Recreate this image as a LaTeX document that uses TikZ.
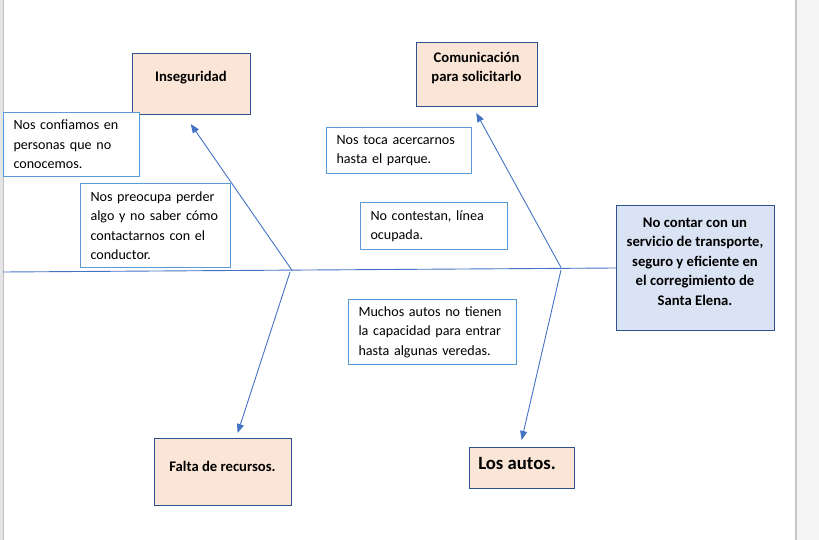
\documentclass[tikz,border=0pt]{standalone}
\usepackage{fontspec}
\setmainfont{Carlito}
\usetikzlibrary{arrows.meta}
\definecolor{peach}{HTML}{FBE5D6}
\definecolor{darkb}{HTML}{2F528F}
\definecolor{mainfill}{HTML}{DAE3F3}
\definecolor{tbline}{HTML}{5B9BD5}
\definecolor{conn}{HTML}{4472C4}
\newcommand{\bodyfont}{\fontsize{14.1}{19.4}\selectfont}
\newcommand{\ttlfont}{\fontsize{14.67}{19.4}\selectfont\bfseries}
\newcommand{\bigfont}{\fontsize{18.7}{22}\selectfont\bfseries}
\newcommand{\tl}[1]{\mbox{#1}}
\tikzset{
  x=1pt, y=-1pt,
  tbox/.style={draw=tbline, fill=white, line width=1pt, inner xsep=10pt, inner ysep=0pt,
    align=left, font=\bodyfont, anchor=north west},
  cause/.style={draw=darkb, fill=peach, line width=1pt, inner sep=0pt, anchor=north west},
  effect/.style={draw=darkb, fill=mainfill, line width=1pt, inner sep=0pt, anchor=north west},
  ttl/.style={font=\ttlfont, align=center, inner sep=0pt},
  bone/.style={draw=conn, line width=0.9pt},
  arr/.style={bone, -{Triangle[length=9pt,width=7pt]}}
}
\begin{document}
\begin{tikzpicture}
\useasboundingbox (0,0) rectangle (819,540);
\fill[white] (0,0) rectangle (819,540);
% window edges
\fill[black!10] (0,0) rectangle (3,540);
\draw[black!25, line width=0.8pt] (3,0) -- (3,540);
\fill[black!4] (797,0) rectangle (819,540);
\draw[black!22, line width=1.6pt] (796,0) -- (796,540);

% cause boxes
\node[cause, minimum width=118pt, minimum height=61pt] (ins) at (132,53) {};
\node[ttl] (inst) at (191,78) {Inseguridad};
\node[cause, minimum width=121pt, minimum height=64pt] (com) at (416,42) {};
\node[ttl] (comt) at (476.5,68) {Comunicación\\para solicitarlo};
\node[cause, minimum width=137pt, minimum height=67pt] (fal) at (154,438) {};
\node[ttl] (falt) at (222.5,466) {Falta de recursos.};
\node[cause, minimum width=105pt, minimum height=41pt] (aut) at (469,447) {};
\node[ttl, font=\bigfont] (autt) at (517,464) {Los autos.};

% effect box
\node[effect, minimum width=158pt, minimum height=125pt] (main) at (616,205) {};
\node[ttl] (maint) at (695,261.5) {No contar con un\\servicio de transporte,\\seguro y eficiente en\\el corregimiento de\\Santa Elena.};

% text boxes
\node[tbox, text width=116pt, minimum height=64pt] (t1) at (3,112) {\tl{Nos confiamos en}\\\tl{personas que no}\\\tl{conocemos.}};
\node[tbox, text width=130pt, minimum height=84pt] (t2) at (80,183) {\tl{Nos preocupa perder}\\\tl{algo y no saber cómo}\\\tl{contactarnos con el}\\\tl{conductor.}};
\node[tbox, text width=125pt, minimum height=46pt] (t3) at (326,127) {\tl{Nos toca acercarnos}\\\tl{hasta el parque.}};
\node[tbox, text width=127pt, minimum height=47pt] (t4) at (360,202) {\tl{No contestan, línea}\\\tl{ocupada.}};
\node[tbox, text width=148pt, minimum height=65pt] (t5) at (348,299) {\tl{Muchos autos no tienen}\\\tl{la capacidad para entrar}\\\tl{hasta algunas veredas.}};

% spine
\coordinate (sl) at (3,272);
\coordinate (j1) at (292,270.3);
\coordinate (j2) at (290,272);
\coordinate (j3) at (561,267.5);
\coordinate (j4) at (561,270);
\draw[bone] (sl) -- (main.west);

% bones
\draw[arr, shorten >=11pt] (j1) -- ([xshift=-7pt]ins.south);
\draw[arr, shorten >=5.3pt] (j2) -- ([xshift=13pt]fal.north);
\draw[arr, shorten >=6.8pt] (j3) -- ([xshift=-4pt]com.south);
\draw[arr, shorten >=7.2pt] (j4) -- ([xshift=-2pt]aut.north);
\end{tikzpicture}
\end{document}
